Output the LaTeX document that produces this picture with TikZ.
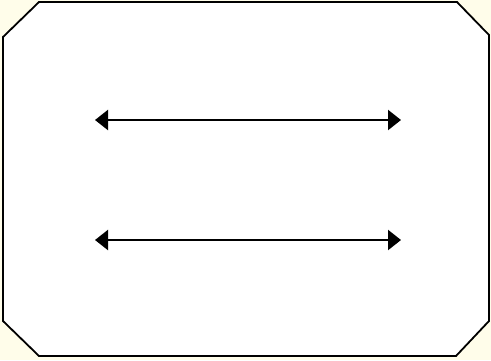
\documentclass[tikz,border=0pt]{standalone}
\usetikzlibrary{arrows.meta}
\definecolor{cream}{RGB}{255,253,234}
\tikzset{
  frame/.style={draw=black, line width=1.8bp, fill=white},
  dblarrow/.style={line width=2.2bp, {Triangle[length=13bp,width=20bp]}-{Triangle[length=13bp,width=20bp]}}
}
\begin{document}
\begin{tikzpicture}[x=1bp,y=-1bp]
\useasboundingbox (0,0) rectangle (491,360);
\fill[cream] (0,0) rectangle (491,360);
\draw[frame] (39,2) -- (457,2) -- (489,35) -- (489,321) -- (456,356) -- (39,356) -- (3,321) -- (3,37) -- cycle;
\coordinate (a1) at (95,120);
\coordinate (b1) at (401,120);
\coordinate (a2) at (95,240);
\coordinate (b2) at (401,240);
\draw[dblarrow] (a1) -- (b1);
\draw[dblarrow] (a2) -- (b2);
\end{tikzpicture}
\end{document}
